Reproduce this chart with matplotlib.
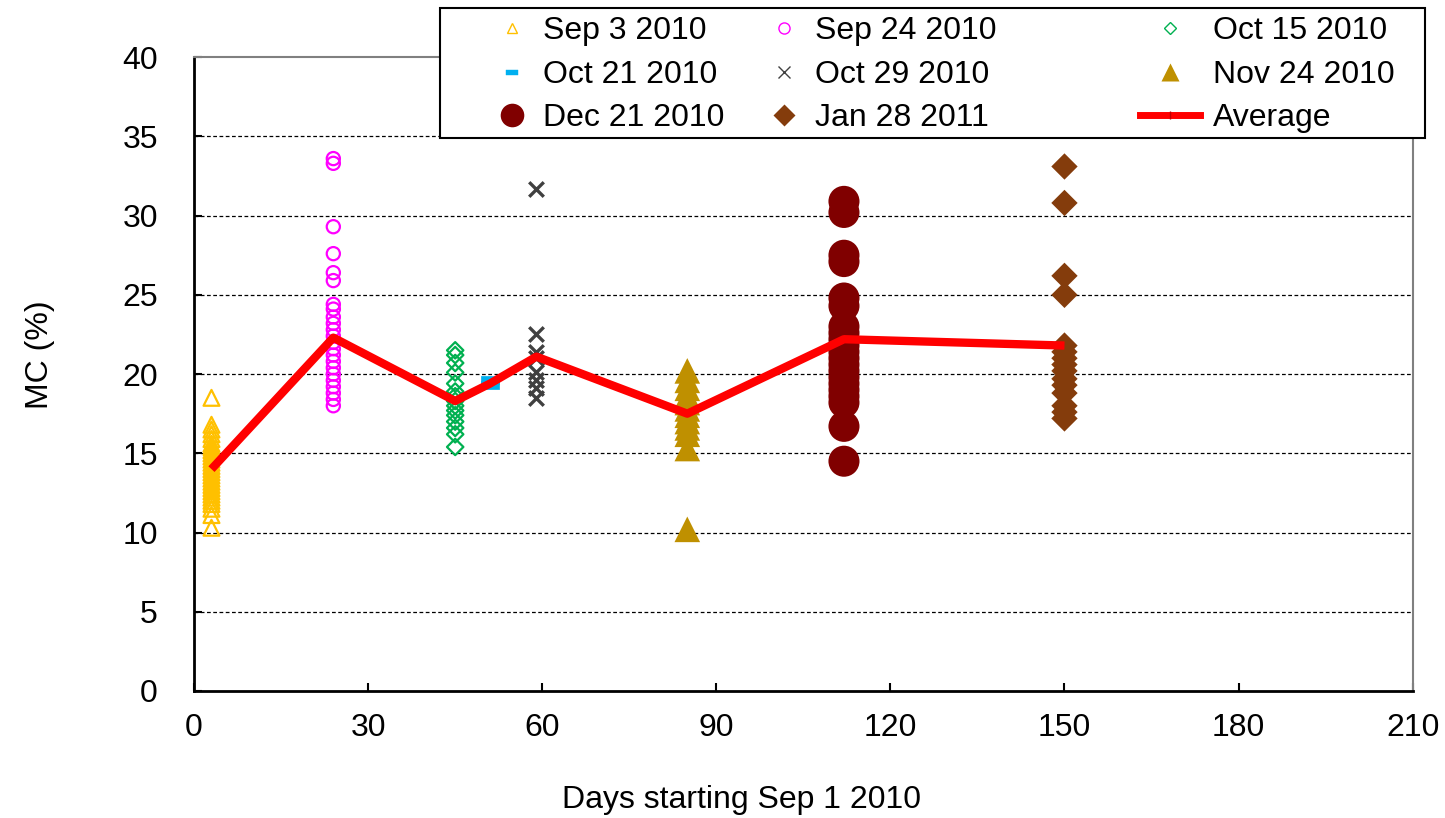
import matplotlib
matplotlib.use("Agg")
import matplotlib.pyplot as plt
from matplotlib.path import Path
from matplotlib.patches import Rectangle
import numpy as np

plt.rcParams['font.family'] = ['Liberation Sans', 'DejaVu Sans']

# ---- data ----
days = [3, 24, 45, 51, 59, 85, 112, 150]
labels = ["Sep 3 2010", "Sep 24 2010", "Oct 15 2010", "Oct 21 2010",
          "Oct 29 2010", "Nov 24 2010", "Dec 21 2010", "Jan 28 2011"]

sep3 = [18.5, 16.8, 16.5, 16.2, 15.9, 15.6, 15.4, 15.2, 15.0, 14.8, 14.6, 14.4,
        14.2, 14.0, 13.8, 13.6, 13.4, 13.2, 13.0, 12.8, 12.6, 12.4, 12.2, 12.0,
        11.8, 11.5, 11.1, 10.3]
sep24 = [33.6, 33.3, 29.3, 27.6, 26.4, 25.9, 24.4, 24.1, 23.6, 23.2, 22.8, 22.4,
         22.0, 21.6, 21.2, 20.8, 20.4, 20.0, 19.6, 19.2, 18.8, 18.4, 18.0]
oct15 = [21.5, 21.2, 20.7, 20.1, 19.4, 18.9, 18.6, 18.3, 18.0, 17.7, 17.4, 17.0,
         16.6, 16.2, 15.4]
oct21 = [19.6, 19.3]
oct29 = [31.7, 22.5, 21.4, 21.0, 20.1, 19.6, 19.1, 18.5]
nov24 = [20.2, 19.6, 19.1, 18.6, 18.2, 17.8, 17.4, 17.0, 16.6, 16.2, 15.3, 10.2]
dec21 = [30.9, 30.2, 27.5, 27.1, 24.8, 24.3, 23.0, 22.6, 22.2, 21.8, 21.4, 21.0,
         20.6, 20.2, 19.8, 19.4, 19.0, 18.6, 18.2, 16.7, 14.5]
jan28 = [33.1, 30.8, 26.2, 25.0, 21.8, 21.4, 21.0, 20.6, 20.2, 19.7, 19.3, 18.8,
         18.0, 17.6, 17.2]
average = [14.0, 22.3, 18.3, 19.4, 21.1, 17.5, 22.2, 21.8]

series = [sep3, sep24, oct15, oct21, oct29, nov24, dec21, jan28]

rect = Path([(-1, -0.45), (1, -0.45), (1, 0.45), (-1, 0.45), (-1, -0.45)],
            [Path.MOVETO, Path.LINETO, Path.LINETO, Path.LINETO, Path.CLOSEPOLY])

styles = [
    dict(marker='^', s=130, facecolors='none', edgecolors='#FFC000', linewidths=1.6),
    dict(marker='o', s=90, facecolors='none', edgecolors='#FF00FF', linewidths=1.6),
    dict(marker='D', s=70, facecolors='none', edgecolors='#00B050', linewidths=1.6),
    dict(marker=rect, s=170, facecolors='#00B0F0', edgecolors='#00B0F0', linewidths=0.5),
    dict(marker='x', s=110, color='#404040', linewidths=2.4),
    dict(marker='^', s=340, color='#BF9000', edgecolors='none'),
    dict(marker='o', s=500, color='#800000', edgecolors='none'),
    dict(marker='D', s=180, color='#843C0C', edgecolors='none'),
]
legend_kw = [
    dict(marker='^', ms=7, mfc='none', mec='#FFC000', mew=1.0),
    dict(marker='o', ms=8, mfc='none', mec='#FF00FF', mew=1.0),
    dict(marker='D', ms=6, mfc='none', mec='#00B050', mew=1.0),
    dict(marker=rect, ms=8, mfc='#00B0F0', mec='#00B0F0', mew=0.3),
    dict(marker='x', ms=8, color='#404040', mew=1.0),
    dict(marker='^', ms=13, color='#BF9000', mec='none'),
    dict(marker='o', ms=17, color='#800000', mec='none'),
    dict(marker='D', ms=11, color='#843C0C', mec='none'),
]

W, H = 1445, 818
fig = plt.figure(figsize=(14.45, 8.18), dpi=100)
ax = fig.add_axes([0.1343, 0.1553, 0.8433, 0.7748])

handles = []
for d, vals, st, lk, lab in zip(days, series, styles, legend_kw, labels):
    ax.scatter([d] * len(vals), vals, zorder=3, **st)
    handles.append(plt.Line2D([], [], linestyle='none', label=lab, **lk))

ax.plot(days, average, color='#FF0000', lw=6, zorder=4, solid_capstyle='butt')
avg_handle = plt.Line2D([], [], color='#FF0000', lw=5, marker='|', ms=6,
                        mec='#C00000', label='Average')

ax.set_xlim(0, 210)
ax.set_ylim(0, 40)
ax.set_xticks(np.arange(0, 211, 30))
ax.set_yticks(np.arange(0, 41, 5))
ax.tick_params(axis='both', direction='in', labelsize=23, length=6, width=1.5,
               colors='black')
ax.tick_params(axis='x', pad=16)
ax.tick_params(axis='y', pad=26)
for y in range(5, 40, 5):
    ax.axhline(y, color='black', lw=0.9, ls=(0, (3, 2)), zorder=1)

for s in ['left', 'bottom']:
    ax.spines[s].set_color('black')
    ax.spines[s].set_linewidth(2)
for s in ['top', 'right']:
    ax.spines[s].set_color('#808080')
    ax.spines[s].set_linewidth(1.5)

fig.text(741 / W, 1 - 800 / H, 'Days starting Sep 1 2010', fontsize=23,
         ha='center', va='center')
fig.text(40 / W, 1 - 355 / H, 'MC (%)', fontsize=23, rotation=90,
         ha='center', va='center')

# legend: box + three single-column legends
fig.add_artist(Rectangle((440 / W, 1 - 138 / H), (1425 - 440) / W, 130 / H,
                         transform=fig.transFigure, facecolor='white',
                         edgecolor='black', lw=1.5, zorder=5))
cols = [[handles[0], handles[3], handles[6]],
        [handles[1], handles[4], handles[7]],
        [handles[2], handles[5], avg_handle]]
col_left = [492, 764, 1140]
col_hlen = [1.25, 1.25, 1.87]
col_pad = [0.34, 0.34, 0.4]
for hs, xl, hl, hp in zip(cols, col_left, col_hlen, col_pad):
    lg = fig.legend(handles=hs, labels=[h.get_label() for h in hs],
                    loc='upper left', bbox_to_anchor=(xl / W, 1 - 16 / H),
                    fontsize=23, frameon=False, borderpad=0, borderaxespad=0,
                    labelspacing=0.43, handlelength=hl, handletextpad=hp)
    lg.set_zorder(6)

fig.savefig('out.png', dpi=100, facecolor='white')
